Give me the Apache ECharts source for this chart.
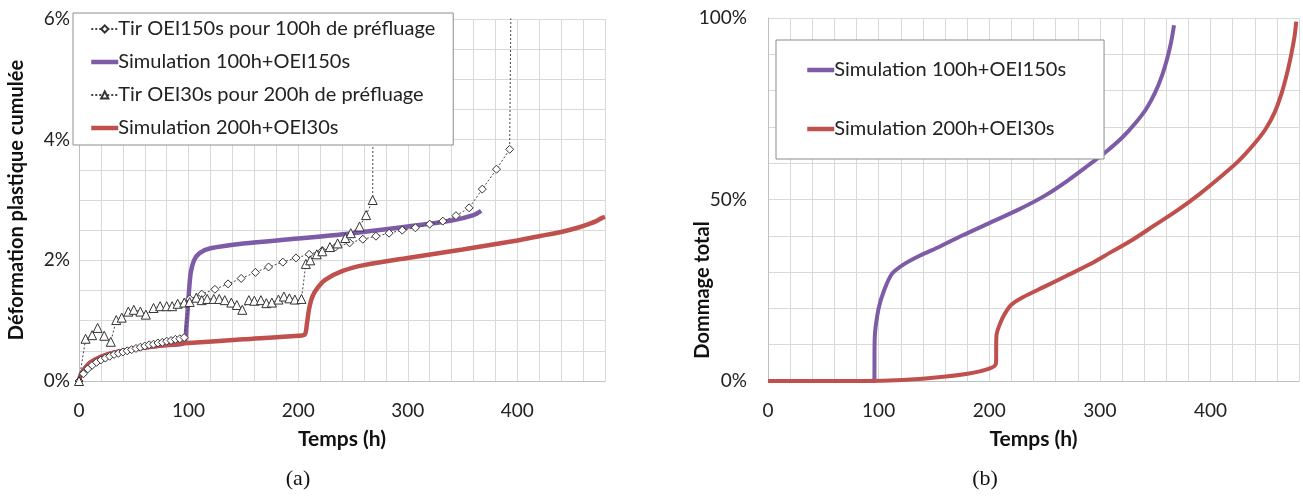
<!DOCTYPE html>
<html>
<head>
<meta charset="utf-8">
<script src="https://cdn.jsdelivr.net/npm/echarts@6/dist/echarts.min.js"></script>
<style>
  html, body { margin: 0; padding: 0; background: #fff; }
  #chart { width: 1303px; height: 497px; }
</style>
</head>
<body>
<div id="chart"></div>
<script>
// ---- (a) Déformation plastique cumulée (%), temps en heures ----
const tirA_t = [0, 4, 8, 12, 16, 20, 24, 28, 32, 36, 40, 44, 48, 52, 56, 60, 64, 68, 72, 76, 80, 84, 88, 92, 96,
  101, 112, 124, 136, 148, 161, 173, 186, 198, 210, 222, 234, 247, 259, 271, 283, 295, 307, 320, 332, 344, 356, 368, 381, 393, 395];
const tirA_v = [0, 0.12, 0.2, 0.26, 0.31, 0.35, 0.38, 0.41, 0.44, 0.46, 0.48, 0.5, 0.52, 0.54, 0.56, 0.58, 0.6, 0.61, 0.63, 0.64, 0.66, 0.67, 0.69, 0.7, 0.72,
  1.36, 1.44, 1.52, 1.61, 1.7, 1.8, 1.89, 1.97, 2.04, 2.1, 2.16, 2.22, 2.29, 2.35, 2.4, 2.45, 2.5, 2.54, 2.6, 2.65, 2.74, 2.87, 3.18, 3.51, 3.84, 8];

const tirB_t = [0, 6, 12, 17, 23, 29, 34, 39, 45, 50, 56, 61, 68, 74, 80, 85, 90, 96, 101, 107, 112, 117, 123, 128, 133, 139, 144, 149,
  155, 160, 166, 171, 176, 182, 187, 192, 197, 203, 207, 211, 217, 222, 229, 236, 243, 248, 256, 262, 268, 269];
const tirB_v = [0, 0.7, 0.76, 0.88, 0.75, 0.65, 1.01, 1.05, 1.15, 1.18, 1.15, 1.1, 1.21, 1.24, 1.24, 1.24, 1.28, 1.3, 1.31, 1.38, 1.34, 1.36, 1.36, 1.36, 1.34, 1.3, 1.26, 1.18,
  1.34, 1.33, 1.34, 1.29, 1.3, 1.35, 1.4, 1.37, 1.35, 1.36, 1.94, 2.0, 2.1, 2.15, 2.22, 2.28, 2.37, 2.45, 2.56, 2.75, 3.0, 8];

const simA_t = [0, 2, 5, 10, 20, 30, 50, 75, 96, 98, 100, 102, 105, 110, 120, 150, 200, 250, 300, 340, 360, 367];
const simA_v = [0, 0.12, 0.2, 0.3, 0.4, 0.46, 0.53, 0.59, 0.63, 0.9, 1.4, 1.8, 2.0, 2.12, 2.2, 2.28, 2.36, 2.45, 2.56, 2.66, 2.75, 2.82];

const simB_t = [0, 2, 5, 10, 20, 30, 50, 75, 100, 150, 200, 206, 208, 210, 213, 218, 225, 240, 260, 300, 350, 400, 420, 440, 455, 465, 472, 477, 480];
const simB_v = [0, 0.12, 0.2, 0.3, 0.4, 0.46, 0.53, 0.59, 0.63, 0.69, 0.75, 0.77, 0.95, 1.2, 1.4, 1.55, 1.68, 1.82, 1.92, 2.04, 2.18, 2.33, 2.4, 2.47, 2.54, 2.6, 2.65, 2.7, 2.72];

// ---- (b) Dommage total (%) ----
const dmgA_t = [0, 96, 96.5, 100, 105, 112, 122, 137, 155, 175, 200, 225, 250, 270, 290, 305, 320, 332, 342, 350, 356, 361, 364.5, 367];
const dmgA_v = [0, 0, 12, 20, 25, 29.5, 32, 34.5, 37, 40, 43.5, 47, 51, 55, 59.5, 63, 67, 71, 75, 79.5, 84, 89, 93.5, 98];

const dmgB_t = [0, 86, 206, 206.5, 210, 214, 220, 230, 250, 270, 290, 310, 330, 350, 370, 390, 410, 425, 440, 450, 458, 464, 469, 473, 476, 477.5];
const dmgB_v = [0, 0, 4.7, 12.5, 16, 18.5, 21, 23, 26, 29, 32, 35.5, 39, 43, 47, 51.5, 56.5, 60.5, 65.5, 69.5, 74, 79, 84.5, 90, 95, 99];

const NAME_TIR_A = 'Tir OEI150s pour 100h de préfluage';
const NAME_SIM_A = 'Simulation 100h+OEI150s';
const NAME_TIR_B = 'Tir OEI30s pour 200h de préfluage';
const NAME_SIM_B = 'Simulation 200h+OEI30s';

const PURPLE = '#7d5ba6';
const RED = '#c0504d';
const FONT = 'Lato';

function zip(t, v) { return t.map((x, i) => [x, v[i]]); }

// the last experimental point sits above the axis max: only the line up to it is seen
function tirData(t, v) {
  return zip(t, v).map((p, i) => i === t.length - 1 ? { value: p, symbol: 'none' } : p);
}

// legend entry for a simulation: plain thick line, no marker
function simItem(name, color) {
  return { name, itemStyle: { opacity: 0 }, lineStyle: { color, width: 4.5 } };
}

const chart = echarts.init(document.getElementById('chart'), null, { renderer: 'canvas' });

function xAxisFor(gridIndex) {
  return {
    gridIndex, type: 'value', min: 0, max: 480, interval: 20,
    name: 'Temps (h)', nameLocation: 'middle', nameGap: 48,
    nameTextStyle: { fontFamily: FONT, fontWeight: 'bold', fontSize: 21, color: '#111' },
    axisLine: { show: true, lineStyle: { color: '#bfbfbf' } },
    axisTick: { show: false },
    axisLabel: {
      fontFamily: FONT, fontSize: 19, color: '#222', margin: 20,
      formatter: v => (v % 100 === 0 ? String(v) : '')
    },
    splitLine: { show: true, lineStyle: { color: '#d9d9d9', width: 1 } }
  };
}

const legendBase = {
  orient: 'vertical',
  backgroundColor: '#fff', borderColor: '#8c8c8c', borderWidth: 1, borderRadius: 0,
  itemWidth: 27, itemHeight: 9, selectedMode: false,
  textStyle: { fontFamily: FONT, fontSize: 20, color: '#222', padding: [0, 0, 0, -5] }
};

const option = {
  animation: false,
  backgroundColor: '#fff',
  grid: [
    { left: 79, top: 19, width: 526, height: 362 },
    { left: 768, top: 18, width: 531, height: 363 }
  ],
  xAxis: [xAxisFor(0), xAxisFor(1)],
  yAxis: [
    {
      gridIndex: 0, type: 'value', min: 0, max: 6, interval: 0.5,
      name: 'Déformation plastique cumulée', nameLocation: 'middle', nameGap: 52,
      nameTextStyle: { fontFamily: FONT, fontWeight: 'bold', fontSize: 20, color: '#111' },
      axisLine: { show: true, lineStyle: { color: '#bfbfbf' } },
      axisTick: { show: false },
      axisLabel: {
        fontFamily: FONT, fontSize: 19, color: '#222', margin: 9,
        formatter: v => (Math.abs(v % 2) < 1e-9 ? v + '%' : '')
      },
      splitLine: { show: true, lineStyle: { color: '#d9d9d9', width: 1 } }
    },
    {
      gridIndex: 1, type: 'value', min: 0, max: 100, interval: 10,
      axisLine: { show: true, lineStyle: { color: '#bfbfbf' } },
      axisTick: { show: false },
      axisLabel: {
        fontFamily: FONT, fontSize: 19, color: '#222', margin: 21,
        formatter: v => (v % 50 === 0 ? v + '%' : '')
      },
      splitLine: { show: true, lineStyle: { color: '#d9d9d9', width: 1 } }
    }
  ],
  legend: [
    Object.assign({}, legendBase, {
      data: [NAME_TIR_A, simItem(NAME_SIM_A, PURPLE), NAME_TIR_B, simItem(NAME_SIM_B, RED)],
      left: 73, top: 13, padding: [6, 18, 7, 16], itemGap: 13
    }),
    Object.assign({}, legendBase, {
      data: [simItem(NAME_SIM_A, PURPLE), simItem(NAME_SIM_B, RED)],
      left: 776, top: 40, padding: [20, 38, 20, 29], itemGap: 39
    })
  ],
  graphic: [
    {
      type: 'text', x: 703, y: 290, rotation: Math.PI / 2,
      style: { text: 'Dommage total', font: 'bold 20px Lato', fill: '#111', align: 'center', verticalAlign: 'middle' }
    },
    { type: 'text', x: 298, y: 479, style: { text: '(a)', font: '22px "Liberation Serif"', fill: '#111', align: 'center', verticalAlign: 'middle' } },
    { type: 'text', x: 985, y: 479, style: { text: '(b)', font: '22px "Liberation Serif"', fill: '#111', align: 'center', verticalAlign: 'middle' } }
  ],
  series: [
    { name: NAME_SIM_A, type: 'line', xAxisIndex: 0, yAxisIndex: 0, data: zip(simA_t, simA_v),
      smooth: 0.3, showSymbol: false, symbol: 'none',
      lineStyle: { color: PURPLE, width: 4.5 }, itemStyle: { color: PURPLE } },
    { name: NAME_SIM_B, type: 'line', xAxisIndex: 0, yAxisIndex: 0, data: zip(simB_t, simB_v),
      smooth: 0.3, showSymbol: false, symbol: 'none',
      lineStyle: { color: RED, width: 4.5 }, itemStyle: { color: RED } },
    { name: NAME_TIR_A, type: 'line', xAxisIndex: 0, yAxisIndex: 0, data: tirData(tirA_t, tirA_v), clip: true,
      symbol: 'diamond', symbolSize: 8, showAllSymbol: true,
      lineStyle: { color: '#444', width: 1, type: [2, 2] },
      itemStyle: { color: '#fff', borderColor: '#333', borderWidth: 1 } },
    { name: NAME_TIR_B, type: 'line', xAxisIndex: 0, yAxisIndex: 0, data: tirData(tirB_t, tirB_v), clip: true,
      symbol: 'triangle', symbolSize: 9, showAllSymbol: true,
      lineStyle: { color: '#444', width: 1, type: [2, 2] },
      itemStyle: { color: '#fff', borderColor: '#333', borderWidth: 1 } },

    { name: NAME_SIM_A, type: 'line', xAxisIndex: 1, yAxisIndex: 1, data: zip(dmgA_t, dmgA_v),
      smooth: 0.3, showSymbol: false, symbol: 'none',
      lineStyle: { color: PURPLE, width: 4 }, itemStyle: { color: PURPLE } },
    { name: NAME_SIM_B, type: 'line', xAxisIndex: 1, yAxisIndex: 1, data: zip(dmgB_t, dmgB_v),
      smooth: 0.3, showSymbol: false, symbol: 'none',
      lineStyle: { color: RED, width: 4 }, itemStyle: { color: RED } }
  ]
};

chart.setOption(option);
</script>
</body>
</html>
